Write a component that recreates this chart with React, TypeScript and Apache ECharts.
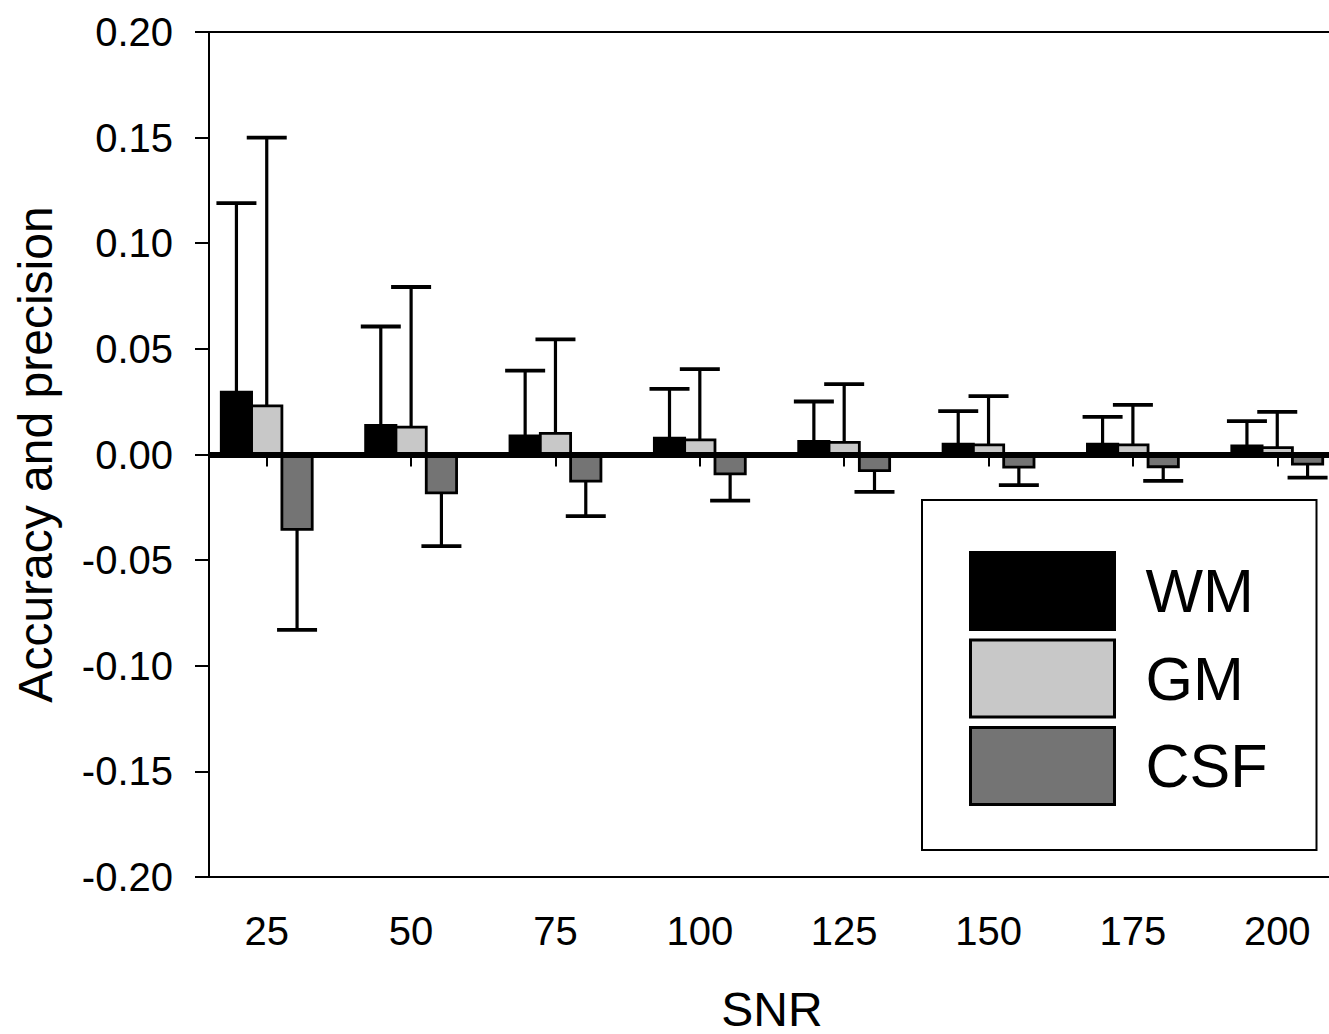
import React, { useEffect, useRef } from "react";
import * as echarts from "echarts";

const snr = [25, 50, 75, 100, 125, 150, 175, 200];
const seriesNames = ["WM", "GM", "CSF"];
const wmMean = [0.0295, 0.0138, 0.0088, 0.0077, 0.0062, 0.0049, 0.0049, 0.0041];
const wmSd = [0.0895, 0.0468, 0.0309, 0.0234, 0.0189, 0.0156, 0.0129, 0.0117];
const gmMean = [0.023, 0.013, 0.01, 0.0069, 0.0057, 0.0046, 0.0046, 0.0033];
const gmSd = [0.127, 0.0663, 0.0445, 0.0335, 0.0276, 0.023, 0.0189, 0.0169];
const csfMean = [-0.0354, -0.0182, -0.0126, -0.0092, -0.0076, -0.006, -0.0058, -0.0046];
const csfSd = [0.0476, 0.0252, 0.0166, 0.0126, 0.0101, 0.0085, 0.0067, 0.0063];
const yTicks = [-0.2, -0.15, -0.1, -0.05, 0, 0.05, 0.1, 0.15, 0.2];

const colors = ["#000000", "#c8c8c8", "#747474"];
const FONT = "'Liberation Sans', Arial, sans-serif";

export default function App() {
  const ref = useRef<HTMLDivElement>(null);
  useEffect(() => {
    if (!ref.current) return;
    const chart = echarts.init(ref.current, null, { renderer: "svg" });
    const means = [wmMean, gmMean, csfMean];
    const sds = [wmSd, gmSd, csfSd];
    const barUnits = 5.25;

    const makeSeries = (idx: number) => ({
      type: "custom",
      name: seriesNames[idx],
      z: 2,
      itemStyle: { color: colors[idx], borderColor: "#000", borderWidth: 3 },
      data: snr.map((s, i) => [s, means[idx][i], sds[idx][i]]),
      encode: { x: 0, y: 1 },
      renderItem: (params: any, api: any) => {
        const x = api.value(0);
        const v = api.value(1);
        const sd = api.value(2);
        const pxUnit = api.size([1, 0])[0];
        const barW = barUnits * pxUnit;
        const base = api.coord([x, 0]);
        const top = api.coord([x, v]);
        const errEnd = api.coord([x, v >= 0 ? v + sd : v - sd]);
        const cx = base[0] + (idx - 1) * barW;
        const left = cx - barW / 2;
        const capW = 40;
        return {
          type: "group",
          children: [
            {
              type: "line",
              shape: { x1: cx, y1: top[1], x2: cx, y2: errEnd[1] },
              style: { stroke: "#000", lineWidth: 3.2 },
            },
            {
              type: "line",
              shape: { x1: cx - capW / 2, y1: errEnd[1], x2: cx + capW / 2, y2: errEnd[1] },
              style: { stroke: "#000", lineWidth: 3.8 },
            },
            {
              type: "rect",
              shape: {
                x: left,
                y: Math.min(base[1], top[1]),
                width: barW,
                height: Math.abs(base[1] - top[1]),
              },
              style: { fill: colors[idx], stroke: "#000", lineWidth: 2.8 },
            },
          ],
        };
      },
    });

    chart.setOption({
      animation: false,
      backgroundColor: "#ffffff",
      grid: {
        left: 209,
        right: 5,
        top: 32,
        bottom: 157,
        outerBoundsMode: "none",
        containLabel: false,
        show: true,
        borderColor: "#000",
        borderWidth: 2,
        backgroundColor: "transparent",
      },
      legend: {
        data: seriesNames,
        orient: "vertical",
        left: 922,
        top: 500,
        selectedMode: false,
        itemWidth: 144,
        itemHeight: 77,
        itemGap: 7.5,
        icon: "rect",
        padding: [51, 49, 44, 47],
        backgroundColor: "#ffffff",
        borderColor: "#000",
        borderWidth: 2,
        itemStyle: { borderColor: "#000", borderWidth: 3 },
        textStyle: {
          fontSize: 61,
          fontFamily: FONT,
          color: "#000",
          padding: [0, 0, 0, 26],
        },
      },
      xAxis: {
        type: "value",
        min: 15,
        max: 210,
        name: "SNR",
        nameLocation: "middle",
        nameGap: 108,
        nameTextStyle: { fontSize: 48, lineHeight: 48, fontFamily: FONT, color: "#000" },
        axisLine: { show: true, lineStyle: { color: "#000", width: 2 } },
        axisTick: {
          show: true,
          length: 12,
          lineStyle: { color: "#000", width: 2 },
          customValues: snr,
        },
        axisLabel: {
          show: true,
          margin: 34,
          fontSize: 40,
          fontFamily: FONT,
          color: "#000",
          customValues: snr,
        },
        splitLine: { show: false },
      },
      yAxis: {
        type: "value",
        min: -0.2,
        max: 0.2,
        interval: 0.05,
        name: "Accuracy and precision",
        nameLocation: "middle",
        nameRotate: 90,
        nameGap: 150,
        nameTextStyle: { fontSize: 48, fontFamily: FONT, color: "#000" },
        axisLine: { show: true, lineStyle: { color: "#000", width: 2 } },
        axisTick: {
          show: true,
          length: 14,
          lineStyle: { color: "#000", width: 2 },
          customValues: yTicks,
        },
        axisLabel: {
          show: true,
          margin: 36,
          fontSize: 40,
          fontFamily: FONT,
          color: "#000",
          customValues: yTicks,
          formatter: (v: number) => v.toFixed(2),
        },
        splitLine: { show: false },
      },
      series: [
        makeSeries(0),
        makeSeries(1),
        makeSeries(2),
        {
          type: "line",
          name: "zero",
          data: [],
          z: 5,
          silent: true,
          markLine: {
            silent: true,
            symbol: "none",
            label: { show: false },
            lineStyle: { color: "#000", width: 6, type: "solid" },
            data: [{ yAxis: 0 }],
          },
        },
      ],
    });
    return () => chart.dispose();
  }, []);

  return (
    <div
      style={{
        position: "fixed",
        left: 0,
        top: 0,
        width: 1329,
        height: 1034,
        overflow: "hidden",
        background: "#fff",
      }}
    >
      <div ref={ref} style={{ width: 1340, height: 1034 }} />
    </div>
  );
}
